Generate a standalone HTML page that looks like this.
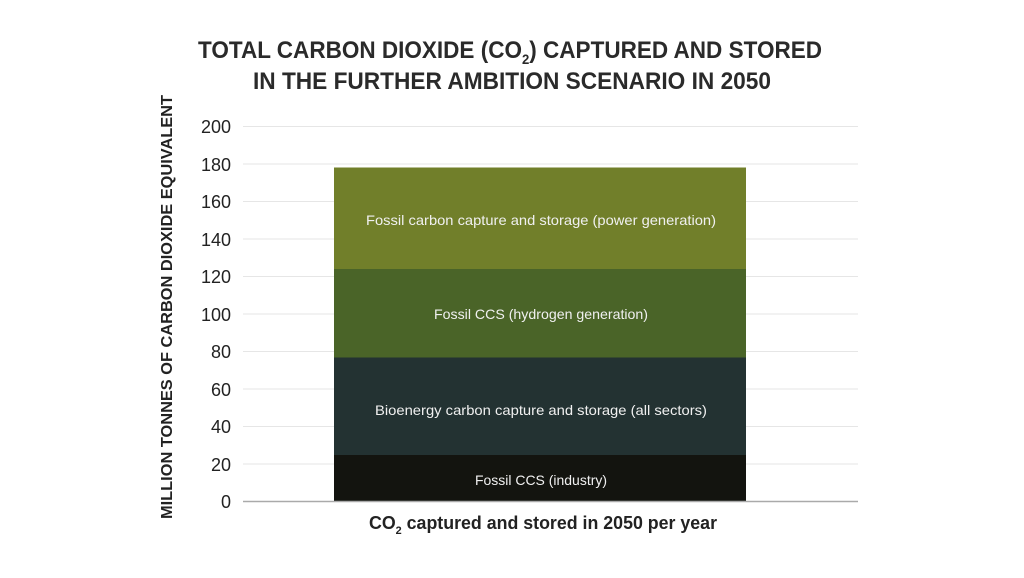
<!DOCTYPE html>
<html><head><style>body{margin:0;background:#fff}</style></head><body>
<svg width="1024" height="573" xmlns="http://www.w3.org/2000/svg" font-family="Liberation Sans, sans-serif">
<rect width="1024" height="573" fill="#fff"/>
<g font-weight="bold" font-size="24" fill="#2a2a2a" text-anchor="middle">
<text x="510" y="58" textLength="624" lengthAdjust="spacingAndGlyphs">TOTAL CARBON DIOXIDE (CO<tspan font-size="14" dy="6">2</tspan><tspan dy="-6">) CAPTURED AND STORED</tspan></text>
<text x="512" y="89" textLength="518" lengthAdjust="spacingAndGlyphs">IN THE FURTHER AMBITION SCENARIO IN 2050</text>
</g>
<g stroke="#e6e6e6" stroke-width="1">
<line x1="243" x2="858" y1="126.5" y2="126.5"/><line x1="243" x2="858" y1="164" y2="164"/>
<line x1="243" x2="858" y1="201.5" y2="201.5"/><line x1="243" x2="858" y1="239" y2="239"/>
<line x1="243" x2="858" y1="276.5" y2="276.5"/><line x1="243" x2="858" y1="314" y2="314"/>
<line x1="243" x2="858" y1="351.5" y2="351.5"/><line x1="243" x2="858" y1="389" y2="389"/>
<line x1="243" x2="858" y1="426.5" y2="426.5"/><line x1="243" x2="858" y1="464" y2="464"/>
</g>
<rect x="334" y="167.5" width="412" height="102" fill="#717f2a"/>
<rect x="334" y="269" width="412" height="89" fill="#4a6428"/>
<rect x="334" y="357.5" width="412" height="98" fill="#233232"/>
<rect x="334" y="455" width="412" height="47" fill="#13140f"/>
<line x1="243" x2="858" y1="501.5" y2="501.5" stroke="#aaa" stroke-width="1.5"/>
<g font-size="14" fill="#f0f0f0" text-anchor="middle">
<text x="541" y="225" textLength="350" lengthAdjust="spacingAndGlyphs">Fossil carbon capture and storage (power generation)</text>
<text x="541" y="319" textLength="214" lengthAdjust="spacingAndGlyphs">Fossil CCS (hydrogen generation)</text>
<text x="541" y="415" textLength="332" lengthAdjust="spacingAndGlyphs">Bioenergy carbon capture and storage  (all sectors)</text>
<text x="541" y="485" textLength="132" lengthAdjust="spacingAndGlyphs">Fossil CCS (industry)</text>
</g>
<g font-size="18" fill="#222" text-anchor="end">
<text x="231" y="133">200</text><text x="231" y="171">180</text><text x="231" y="208">160</text>
<text x="231" y="246">140</text><text x="231" y="283">120</text><text x="231" y="321">100</text>
<text x="231" y="358">80</text><text x="231" y="396">60</text><text x="231" y="433">40</text>
<text x="231" y="471">20</text><text x="231" y="508">0</text>
</g>
<text transform="translate(172,307) rotate(-90)" text-anchor="middle" font-weight="bold" font-size="16" fill="#222" textLength="424" lengthAdjust="spacingAndGlyphs">MILLION TONNES OF CARBON DIOXIDE EQUIVALENT</text>
<text x="543" y="529" text-anchor="middle" font-weight="bold" font-size="18" fill="#222" textLength="348" lengthAdjust="spacingAndGlyphs">CO<tspan font-size="11" dy="5">2</tspan><tspan dy="-5"> captured and stored in 2050 per year</tspan></text>
</svg>
</body></html>
